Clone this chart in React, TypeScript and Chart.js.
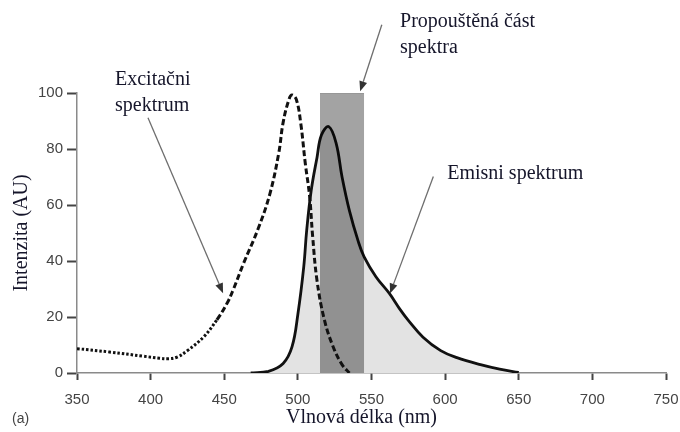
import React, { useEffect, useRef } from "react";
import { Chart, registerables } from "chart.js";

Chart.register(...registerables);

// Excitation spectrum (dashed)
const excitationX = [350, 372, 395, 406, 412, 418, 425, 436, 445, 452, 456, 463, 473, 481, 487, 490, 494, 496, 499, 502, 505, 508, 510, 513, 518, 524, 530, 535];
const excitationY = [8.7, 7.5, 6, 5.3, 5.1, 5.7, 8, 12.9, 19, 25, 29.6, 39, 51.5, 64, 78.5, 89.5, 97.8, 99.3, 97.6, 89, 75, 63, 49, 33, 19, 9.3, 3, 0];

// Emission spectrum (solid, filled)
const emissionX = [468, 480, 490, 496, 500, 504, 506, 509, 513, 516, 521, 526, 530, 535, 541, 545, 553, 562, 569, 575, 585, 597, 608, 624, 637, 650];
const emissionY = [0, 0.6, 3.4, 9.3, 21, 38, 51, 65, 77, 85, 88, 82, 70, 58, 47, 41.5, 34.4, 28.5, 23, 18.8, 12.8, 8, 5.5, 3, 1.4, 0.2];

// Transmitted band
const bandX = [515, 545];
const bandTop = 100;

// Axis ticks
const xTicks = [350, 400, 450, 500, 550, 600, 650, 700, 750];
const yTicks = [0, 20, 40, 60, 80, 100];

// Annotations (data units)
const labels = [
  { lines: ["Excitačni", "spektrum"], x: 375.8, y: 104.6, dy: 9.0 },
  { lines: ["Propouštěná část", "spektra"], x: 569.4, y: 125.6, dy: 9.6 },
  { lines: ["Emisni spektrum"], x: 601.4, y: 71.1, dy: 0 },
];
const arrows = [
  { from: [398.2, 91.2], to: [449.2, 28.5] },
  { from: [557, 124.4], to: [542.3, 100.6] },
  { from: [592, 70.2], to: [562.6, 28.4] },
];

const annotationPlugin = {
  id: "annotations",
  afterDraw(chart: any) {
    const { ctx, scales, chartArea } = chart;
    const xs = scales.x;
    const ys = scales.y;
    ctx.save();
    // arrows
    arrows.forEach((a) => {
      const x1 = xs.getPixelForValue(a.from[0]);
      const y1 = ys.getPixelForValue(a.from[1]);
      const x2 = xs.getPixelForValue(a.to[0]);
      const y2 = ys.getPixelForValue(a.to[1]);
      const ang = Math.atan2(y2 - y1, x2 - x1);
      const hl = 10;
      const hw = 4;
      const bx = x2 - hl * Math.cos(ang);
      const by = y2 - hl * Math.sin(ang);
      ctx.strokeStyle = "#6e6e6e";
      ctx.lineWidth = 1.3;
      ctx.beginPath();
      ctx.moveTo(x1, y1);
      ctx.lineTo(bx, by);
      ctx.stroke();
      ctx.fillStyle = "#333";
      ctx.beginPath();
      ctx.moveTo(x2, y2);
      ctx.lineTo(bx + hw * Math.sin(ang), by - hw * Math.cos(ang));
      ctx.lineTo(bx - hw * Math.sin(ang), by + hw * Math.cos(ang));
      ctx.closePath();
      ctx.fill();
    });
    // labels
    ctx.fillStyle = "#15152a";
    ctx.font = '20px "Liberation Serif"';
    ctx.textAlign = "left";
    ctx.textBaseline = "middle";
    labels.forEach((l) => {
      l.lines.forEach((t, i) => {
        ctx.fillText(t, xs.getPixelForValue(l.x), ys.getPixelForValue(l.y - i * l.dy));
      });
    });
    // axis titles
    ctx.textAlign = "center";
    ctx.fillText("Vlnová délka (nm)", (chartArea.left + chartArea.right) / 2 - 10, chartArea.bottom + 45);
    ctx.save();
    ctx.translate(22, (chartArea.top + chartArea.bottom) / 2);
    ctx.rotate(-Math.PI / 2);
    ctx.fillText("Intenzita (AU)", 0, 0);
    ctx.restore();
    ctx.fillStyle = "#444";
    ctx.font = '14px "Liberation Sans"';
    ctx.textAlign = "left";
    ctx.fillText("(a)", 12, chartArea.bottom + 46);
    ctx.restore();
  },
};

export default function App() {
  const ref = useRef<HTMLCanvasElement>(null);
  useEffect(() => {
    if (!ref.current) return;
    const chart = new Chart(ref.current, {
      type: "line",
      data: {
        datasets: [
          {
            label: "Emise",
            data: emissionX.map((x, i) => ({ x, y: emissionY[i] })),
            borderColor: "#111",
            borderWidth: 2.8,
            backgroundColor: "#e3e3e3",
            fill: "origin",
            pointRadius: 0,
            tension: 0.4,
            order: 3,
          },
          {
            label: "Pásmo",
            data: bandX.map((x) => ({ x, y: bandTop })),
            borderColor: "rgba(0,0,0,0.15)",
            borderWidth: 1,
            backgroundColor: "rgba(0,0,0,0.36)",
            fill: "origin",
            pointRadius: 0,
            order: 2,
          },
          {
            label: "Excitace",
            data: excitationX.map((x, i) => ({ x, y: excitationY[i] })),
            borderColor: "#111",
            borderWidth: 3,
            borderDash: [6, 3],
            fill: false,
            pointRadius: 0,
            tension: 0.4,
            segment: {
              borderDash: (c: any) => (c.p0.parsed.x < 440 ? [2.5, 2] : [6, 3]),
            },
            order: 1,
          },
        ],
      },
      options: {
        animation: false,
        responsive: false,
        devicePixelRatio: 1,
        layout: { padding: { left: 0, right: 14, top: 93, bottom: 0 } },
        plugins: { legend: { display: false }, tooltip: { enabled: false } },
        scales: {
          x: {
            type: "linear",
            min: 350,
            max: 750,
            afterFit: (s: any) => {
              s.height = 59;
              s.paddingLeft = 0;
              s.paddingRight = 0;
            },
            afterBuildTicks: (s: any) => {
              s.ticks = xTicks.map((v) => ({ value: v }));
            },
            ticks: {
              color: "#444",
              font: { family: "Liberation Sans", size: 15 },
              padding: 11,
              maxRotation: 0,
            },
            grid: {
              display: true,
              drawOnChartArea: false,
              drawTicks: true,
              tickLength: 7,
              tickColor: "#444",
              tickWidth: 2,
            },
            border: { color: "#8a8a8a", width: 1.5 },
          },
          y: {
            type: "linear",
            min: 0,
            max: 100,
            afterFit: (s: any) => {
              s.width = 77;
              s.paddingTop = 0;
              s.paddingBottom = 0;
            },
            afterBuildTicks: (s: any) => {
              s.ticks = yTicks.map((v) => ({ value: v }));
            },
            ticks: {
              color: "#444",
              font: { family: "Liberation Sans", size: 15 },
              padding: 4,
            },
            grid: {
              display: true,
              drawOnChartArea: false,
              drawTicks: true,
              tickLength: 10,
              tickColor: "#444",
              tickWidth: 2,
            },
            border: { color: "#8a8a8a", width: 1.5 },
          },
        },
      },
      plugins: [annotationPlugin],
    } as any);
    return () => chart.destroy();
  }, []);
  return (
    <div style={{ position: "absolute", left: 0, top: 0, width: 680, height: 432, background: "#fff" }}>
      <canvas ref={ref} width={680} height={432} />
    </div>
  );
}
